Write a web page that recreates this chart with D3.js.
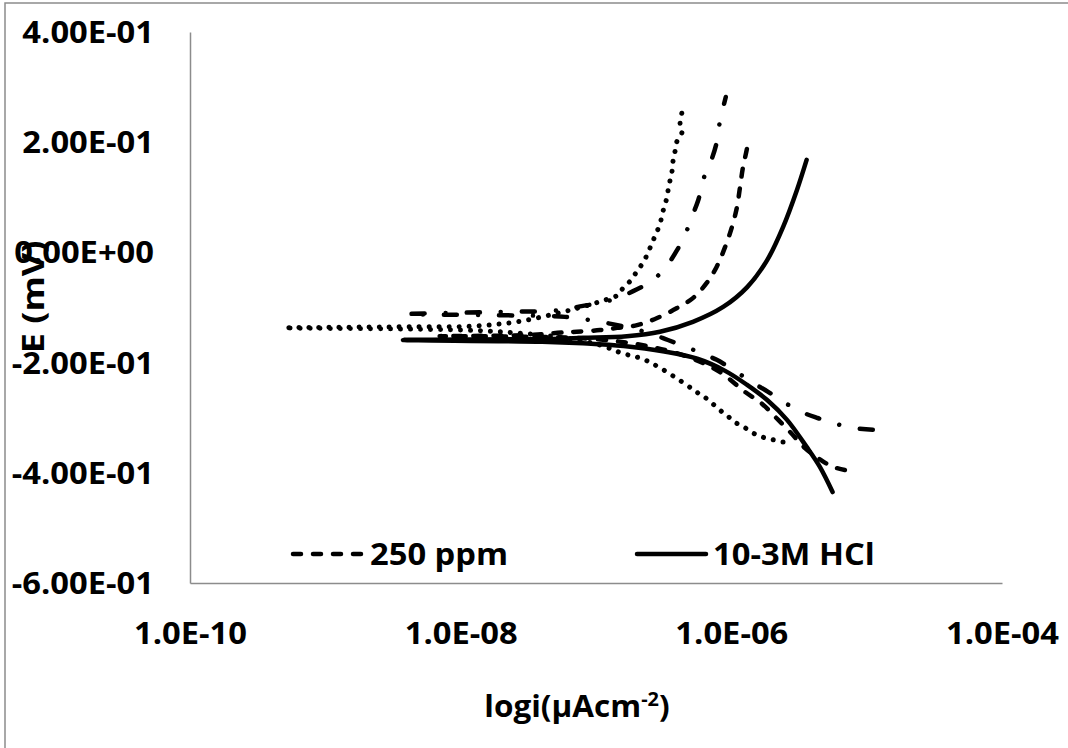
<!DOCTYPE html>
<html>
<head>
<meta charset="utf-8">
<script src="https://cdn.jsdelivr.net/npm/d3@7"></script>
<style>
  html, body { margin: 0; padding: 0; background: #fff; }
  svg { display: block; }
  text { font-family: "Open Sans", Lato, "Liberation Sans", sans-serif; font-weight: 700; fill: #000; }
</style>
</head>
<body>
<svg id="chart" width="1068" height="748"></svg>
<script>
// Potentiodynamic polarisation curves: current density (log scale) vs potential.
// Each series runs from the cathodic end, through the corrosion potential, to the anodic end.

const xTickValues = [1e-10, 1e-8, 1e-6, 1e-4];
const yTickValues = [0.4, 0.2, 0, -0.2, -0.4, -0.6];

// [current, potential]
const dottedSeries = [
  [2.41e-6, -0.344], [2.03e-6, -0.340], [1.69e-6, -0.335], [1.45e-6, -0.328],
  [1.24e-6, -0.317], [1.06e-6, -0.308], [9.4e-7, -0.297], [8.4e-7, -0.288],
  [7.3e-7, -0.275], [6.3e-7, -0.262], [5.5e-7, -0.253], [4.7e-7, -0.241],
  [3.0e-7, -0.210], [2.19e-7, -0.193], [1.56e-7, -0.183], [1.07e-7, -0.168],
  [5.4e-8, -0.154], [1.95e-8, -0.144], [1.04e-8, -0.141], [3.6e-9, -0.139],
  [5.0e-10, -0.137],
  [3.6e-9, -0.135], [1.17e-8, -0.134], [2.6e-8, -0.126], [5.7e-8, -0.108],
  [9.0e-8, -0.095], [1.21e-7, -0.085], [1.46e-7, -0.077], [1.58e-7, -0.065],
  [1.82e-7, -0.050], [2.01e-7, -0.034], [2.22e-7, -0.019], [2.42e-7, -0.001],
  [2.59e-7, 0.017], [2.77e-7, 0.033], [2.97e-7, 0.052], [3.13e-7, 0.075],
  [3.29e-7, 0.093], [3.40e-7, 0.111], [3.52e-7, 0.130], [3.65e-7, 0.148],
  [3.71e-7, 0.166], [3.84e-7, 0.184], [3.97e-7, 0.202], [4.33e-7, 0.219],
  [4.18e-7, 0.235], [4.33e-7, 0.255]
];

const dashDotSeries = [
  [1.11e-5, -0.322], [8.2e-6, -0.319], [5.9e-6, -0.311], [4.4e-6, -0.301],
  [3.33e-6, -0.290], [2.45e-6, -0.272], [1.87e-6, -0.253], [1.45e-6, -0.237],
  [1.06e-6, -0.215], [7.8e-7, -0.195], [6.4e-7, -0.186], [4.7e-7, -0.172],
  [3.40e-7, -0.159], [2.59e-7, -0.148], [1.78e-7, -0.137], [1.07e-7, -0.126],
  [5.9e-8, -0.117], [1.95e-8, -0.114], [4.0e-9, -0.112],
  [1.95e-8, -0.108], [5.4e-8, -0.105], [8.0e-8, -0.097], [1.07e-7, -0.092],
  [1.46e-7, -0.082], [2.01e-7, -0.067], [2.59e-7, -0.052], [3.29e-7, -0.026],
  [3.97e-7, 0.004], [4.55e-7, 0.032], [5.1e-7, 0.064], [5.7e-7, 0.095],
  [6.3e-7, 0.137], [7.2e-7, 0.171], [7.8e-7, 0.200], [8.2e-7, 0.235],
  [9.1e-7, 0.282]
];

const dashedSeries = [
  [6.9e-6, -0.395], [5.6e-6, -0.389], [4.6e-6, -0.377], [3.5e-6, -0.355],
  [2.72e-6, -0.326], [2.14e-6, -0.300], [1.69e-6, -0.275], [1.26e-6, -0.253],
  [8.2e-7, -0.217], [4.95e-7, -0.191], [2.51e-7, -0.171], [1.07e-7, -0.158],
  [3.25e-8, -0.153], [7.0e-9, -0.152],
  [3.25e-8, -0.150], [5.2e-8, -0.146], [7.2e-8, -0.144], [1.07e-7, -0.141],
  [1.43e-7, -0.137], [2.01e-7, -0.132], [2.83e-7, -0.119], [3.97e-7, -0.101],
  [5.2e-7, -0.083], [6.6e-7, -0.055], [7.8e-7, -0.026], [9.0e-7, 0.010],
  [1.01e-6, 0.046], [1.10e-6, 0.082], [1.16e-6, 0.119], [1.22e-6, 0.155],
  [1.31e-6, 0.191], [1.33e-6, 0.208]
];

const solidSeries = [
  [5.6e-6, -0.435], [4.5e-6, -0.389], [3.6e-6, -0.353], [2.58e-6, -0.304],
  [1.84e-6, -0.268], [1.30e-6, -0.240], [9.0e-7, -0.215], [5.6e-7, -0.193],
  [3.2e-7, -0.180], [1.6e-7, -0.170], [8.0e-8, -0.165], [4.0e-8, -0.162],
  [3.75e-9, -0.159],
  [4.6e-8, -0.157], [8.0e-8, -0.155], [1.69e-7, -0.152], [2.97e-7, -0.144],
  [5.2e-7, -0.126], [8.7e-7, -0.099], [1.31e-6, -0.063], [1.84e-6, -0.014],
  [2.41e-6, 0.046], [3.05e-6, 0.113], [3.6e-6, 0.168]
];

const seriesNames = ["dotted", "dash-dot", "250 ppm", "10-3M HCl"];
const legendNames = ["250 ppm", "10-3M HCl"];

const lineStyles = {
  "dotted": { dash: "0.01 10", width: 5 },
  "dash-dot": { dash: "13 21 0.01 21", width: 4.5 },
  "250 ppm": { dash: "8 12", width: 4.5 },
  "10-3M HCl": { dash: null, width: 4.5 }
};

const seriesList = [
  { name: seriesNames[0], points: dottedSeries },
  { name: seriesNames[1], points: dashDotSeries },
  { name: seriesNames[2], points: dashedSeries },
  { name: seriesNames[3], points: solidSeries }
];

const svg = d3.select("#chart");
const W = 1068, H = 748;
const plot = { left: 190, right: 1002, top: 32, bottom: 583 };
const FONT = 30;
const WIDEN = 1.09;   // slightly widened lettering

// stretch each text horizontally by a factor while keeping its anchor
function widen(sel, k = WIDEN) {
  sel.each(function () {
    const len = this.getComputedTextLength();
    d3.select(this).attr("textLength", len * k).attr("lengthAdjust", "spacingAndGlyphs");
  });
}

// Outer chart frame
svg.append("rect")
  .attr("x", 5).attr("y", 3)
  .attr("width", W + 20).attr("height", H + 20)
  .attr("fill", "#fff")
  .attr("stroke", "#8c8c8c").attr("stroke-width", 1.5);

const x = d3.scaleLog().domain([1e-10, 1e-4]).range([plot.left, plot.right]);
const y = d3.scaleLinear().domain([-0.6, 0.4]).range([plot.bottom, plot.top]);

function sci(v, digits) {
  const s = v.toExponential(digits);
  const [m, e] = s.split("e");
  const sign = e[0] === "-" ? "-" : "+";
  const mag = e.replace(/[+-]/, "").padStart(2, "0");
  return m + "E" + sign + mag;
}

// Axes
const yAxis = d3.axisLeft(y).tickValues(yTickValues).tickSize(0).tickPadding(36)
  .tickFormat(d => sci(d, 2));
const gy = svg.append("g").attr("transform", `translate(${plot.left},0)`).call(yAxis);
gy.attr("font-family", null).attr("font-size", null);
gy.select(".domain").attr("stroke", "#8c8c8c").attr("stroke-width", 1.5);
gy.selectAll("text").attr("font-size", FONT).attr("dy", "0.35em").call(widen);

const xAxis = d3.axisBottom(x).tickValues(xTickValues).tickSize(0).tickPadding(40)
  .tickFormat(d => sci(d, 1));
const gx = svg.append("g").attr("transform", `translate(0,${plot.bottom})`).call(xAxis);
gx.attr("font-family", null).attr("font-size", null);
gx.select(".domain").attr("stroke", "#8c8c8c").attr("stroke-width", 1.5);
gx.selectAll("text").attr("font-size", FONT).call(widen);

// Curves
const line = d3.line()
  .x(d => x(d[0]))
  .y(d => y(d[1]))
  .curve(d3.curveCatmullRom.alpha(0.5));

svg.append("g").selectAll("path")
  .data(seriesList)
  .join("path")
  .attr("d", d => line(d.points))
  .attr("fill", "none")
  .attr("stroke", "#000")
  .attr("stroke-width", d => lineStyles[d.name].width)
  .attr("stroke-linecap", "round")
  .attr("stroke-linejoin", "round")
  .attr("stroke-dasharray", d => lineStyles[d.name].dash);

// Legend
const legendItems = [
  { name: legendNames[0], x0: 293, x1: 364, tx: 370 },
  { name: legendNames[1], x0: 637, x1: 706, tx: 713 }
];
const lg = svg.append("g");
legendItems.forEach(it => {
  lg.append("line")
    .attr("x1", it.x0).attr("x2", it.x1)
    .attr("y1", 554).attr("y2", 554)
    .attr("stroke", "#000").attr("stroke-width", 4.5)
    .attr("stroke-linecap", "round")
    .attr("stroke-dasharray", lineStyles[it.name].dash);
  lg.append("text")
    .attr("x", it.tx).attr("y", 554)
    .attr("dy", "0.36em")
    .attr("font-size", FONT)
    .text(it.name)
    .call(widen);
});

// Axis titles
const xt = svg.append("text")
  .attr("transform", "translate(577,717) scale(1.05,1)")
  .attr("text-anchor", "middle")
  .attr("font-size", FONT);
xt.append("tspan").text("logi(μAcm");
xt.append("tspan").attr("font-size", 19).attr("dy", -11).text("-2");
xt.append("tspan").attr("dy", 11).text(")");

svg.append("text")
  .attr("transform", "translate(33,297) rotate(-90)")
  .attr("text-anchor", "middle")
  .attr("dy", "0.36em")
  .attr("font-size", FONT)
  .text("E (mV)")
  .call(widen, 1.2);
</script>
</body>
</html>
